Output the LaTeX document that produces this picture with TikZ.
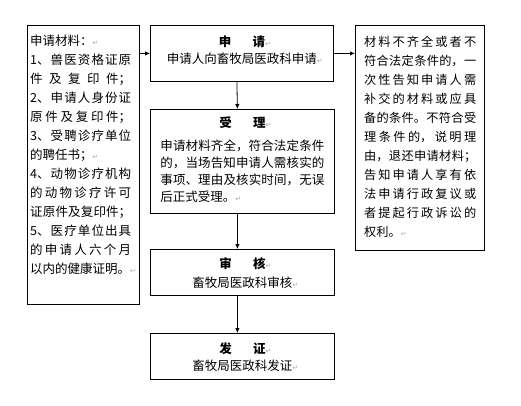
\documentclass[tikz,border=0pt]{standalone}
\usepackage{fontspec}
\setmainfont{Noto Sans CJK SC}
\newfontfamily\symfont{DejaVu Sans}
\usetikzlibrary{arrows.meta}
\XeTeXlinebreaklocale "zh"
\XeTeXlinebreakskip=0pt plus 6pt
\hbadness=10000

% paragraph mark and spaced title
\newcommand{\ret}{\rlap{\symfont\fontsize{7}{7}\selectfont\color{black!35}↵}}
\newcommand{\ttl}[2]{{\bfseries #1\hspace{1.7em}#2}}

\tikzset{
  box/.style={draw, line width=0.8pt, anchor=north west, inner sep=0pt},
  txt/.style={inner sep=0pt, font=\fontsize{12.5}{19}\selectfont},
  midtxt/.style={txt, anchor=north, align=center, font=\fontsize{12.5}{17}\selectfont},
  arr/.style={-{Latex[length=5pt,width=4.5pt]}, line width=0.8pt},
}

\begin{document}
\begin{tikzpicture}[x=1pt, y=-1pt]
  \useasboundingbox (0,0) rectangle (521,406);

  % Draw boxes
  \node[box, minimum width=112pt, minimum height=279pt] (mat) at (27,25) {};
  \node[box, minimum width=183pt, minimum height=56pt] (apply) at (150,25) {};
  \node[box, minimum width=184pt, minimum height=104pt] (accept) at (150,109) {};
  \node[box, minimum width=184pt, minimum height=46pt] (review) at (150,249) {};
  \node[box, minimum width=184pt, minimum height=46pt] (issue) at (150,333) {};
  \node[box, minimum width=129pt, minimum height=225pt] (refuse) at (355,25) {};

  % Left and right texts
  \node[txt, anchor=north west, text width=101pt, align=justify] (mattext) at (30,35) {申请材料：\ret\\1、兽医资格证原\linebreak 件及复印件；\linebreak 2、申请人身份证\linebreak 原件及复印件；\linebreak 3、受聘诊疗单位\linebreak 的聘任书；\ret\\4、动物诊疗机构\linebreak 的动物诊疗许可\linebreak 证原件及复印件；\linebreak 5、医疗单位出具\linebreak 的申请人六个月\linebreak 以内的健康证明。\ret};
  \node[txt, anchor=north west, text width=112pt, align=justify, font=\fontsize{12.2}{19}\selectfont] (refusetext) at (364,36) {材料不齐全或者不\linebreak 符合法定条件的，一\linebreak 次性告知申请人需\linebreak 补交的材料或应具\linebreak 备的条件。不符合受\linebreak 理条件的，说明理\linebreak 由，退还申请材料；\linebreak 告知申请人享有依\linebreak 法申请行政复议或\linebreak 者提起行政诉讼的\linebreak 权利。\ret};

  % Middle texts
  \node[midtxt] (applytext) at ([yshift=-10.5pt]apply.north) {\ttl{申}{请}\ret\\申请人向畜牧局医政科申请\ret};
  \node[midtxt, text width=164pt, align=justify] (accepttext) at ([yshift=-8pt]accept.north) {\makebox[164pt]{\ttl{受}{理}\ret}\\[6pt]申请材料齐全，符合法定条件\linebreak 的，当场告知申请人需核实的\linebreak 事项、理由及核实时间，无误\linebreak 后正式受理。\ret};
  \node[midtxt, font=\fontsize{12.5}{19}\selectfont] (reviewtext) at ([yshift=-8.5pt]review.north) {\ttl{审}{核}\ret\\畜牧局医政科审核\ret};
  \node[midtxt] (issuetext) at ([yshift=-9.5pt]issue.north) {\ttl{发}{证}\ret\\畜牧局医政科发证\ret};

  % Draw arrows
  \draw[arr] (mat.east |- apply.west) -- (apply.west);
  \draw[arr] (apply.east) -- (refuse.west |- apply.east);
  \draw[arr] ([xshift=-5pt]apply.south) -- ([xshift=-5pt]accept.north);
  \draw[arr] ([xshift=-5pt]accept.south) -- ([xshift=-5pt]review.north);
  \draw[arr] ([xshift=-5pt]review.south) -- ([xshift=-5pt]issue.north);
\end{tikzpicture}
\end{document}
